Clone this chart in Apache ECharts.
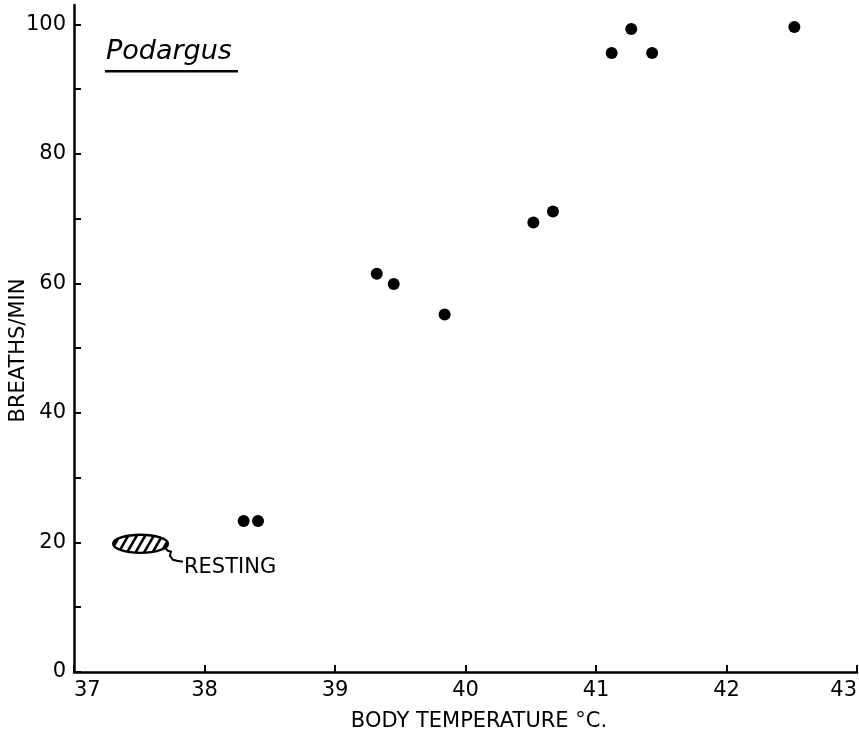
<!DOCTYPE html>
<html>
<head>
<meta charset="utf-8">
<script src="https://cdn.jsdelivr.net/npm/echarts@6/dist/echarts.min.js"></script>
<style>
  html, body { margin: 0; padding: 0; background: #fff; }
  #main { width: 859px; height: 735px; }
</style>
</head>
<body>
<div id="main"></div>
<script>
// data
var bodyTemp = [38.30, 38.41, 39.32, 39.45, 39.84, 40.52, 40.67, 41.12, 41.27, 41.43, 42.52];
var breaths  = [23.3, 23.3, 61.5, 59.9, 55.2, 69.4, 71.1, 95.6, 99.3, 95.6, 99.6];
var xTicks = [37, 38, 39, 40, 41, 42, 43];
var yTicks = [0, 10, 20, 30, 40, 50, 60, 70, 80, 90, 100];
var yLabels = [0, 20, 40, 60, 80, 100];
// resting zone (centre and half sizes, in data units)
var restingX = [37.51];
var restingY = [19.8];
var restingHalfW = [0.21];
var restingHalfH = [1.4];

var font = 'DejaVu Sans';
var chart = echarts.init(document.getElementById('main'));

function restingItem(params, api) {
  var c = api.coord([api.value(0), api.value(1)]);
  var s = api.size([api.value(2), api.value(3)]);
  var cx = c[0], cy = c[1], rx = s[0], ry = s[1];
  var children = [];
  // hatch lines "/" clipped to the ellipse
  var th = 60 * Math.PI / 180, co = Math.cos(th), si = Math.sin(th);
  var step = 8.5;
  for (var k = -5; k <= 5; k++) {
    var d = k * step;
    var A = co * co / (rx * rx) + si * si / (ry * ry);
    var B = 2 * d * co / (rx * rx);
    var C = d * d / (rx * rx) - 1;
    var disc = B * B - 4 * A * C;
    if (disc <= 0) continue;
    var u1 = (-B - Math.sqrt(disc)) / (2 * A);
    var u2 = (-B + Math.sqrt(disc)) / (2 * A);
    children.push({
      type: 'line',
      shape: { x1: cx + d + u1 * co, y1: cy - u1 * si, x2: cx + d + u2 * co, y2: cy - u2 * si },
      style: { stroke: '#000', lineWidth: 2.6 }
    });
  }
  children.push({
    type: 'ellipse',
    shape: { cx: cx, cy: cy, rx: rx, ry: ry },
    style: { fill: 'none', stroke: '#000', lineWidth: 2.4 }
  });
  // little tail to the label
  var tx = cx + rx - 4, ty = cy + 3;
  children.push({
    type: 'polyline',
    shape: { points: [[tx, ty], [tx + 4, ty + 4], [tx + 7, ty + 5], [tx + 6, ty + 9], [tx + 9, ty + 13], [tx + 13, ty + 14], [tx + 19, ty + 15]] },
    style: { fill: 'none', stroke: '#000', lineWidth: 2 }
  });
  children.push({
    type: 'text',
    x: tx + 20, y: ty + 21,
    style: { text: 'RESTING', font: '21px ' + font, fill: '#000', textVerticalAlign: 'middle', textAlign: 'left' }
  });
  return { type: 'group', children: children };
}

var option = {
  backgroundColor: '#fff',
  animation: false,
  grid: { left: 74, right: 2, top: 5, bottom: 63, containLabel: false, outerBoundsMode: 'none' },
  xAxis: {
    type: 'value',
    min: 37,
    max: 43,
    name: 'BODY TEMPERATURE °C.',
    nameLocation: 'middle',
    nameGap: 39,
    nameMoveOverlap: false,
    nameTextStyle: { fontFamily: font, fontSize: 21, color: '#000', padding: [0, 0, 0, 27] },
    axisLine: { lineStyle: { color: '#000', width: 2.5 } },
    axisTick: { inside: true, length: 7, customValues: xTicks, lineStyle: { color: '#000', width: 2 } },
    axisLabel: {
      customValues: xTicks,
      margin: 8,
      fontFamily: font, fontSize: 21, color: '#000',
      alignMinLabel: 'left', alignMaxLabel: 'right'
    },
    splitLine: { show: false }
  },
  yAxis: {
    type: 'value',
    min: 0,
    max: 103,
    name: 'BREATHS/MIN',
    nameLocation: 'middle',
    nameGap: 45,
    nameMoveOverlap: false,
    nameTextStyle: { fontFamily: font, fontSize: 21, color: '#000', padding: [0, 24, 0, 0] },
    axisLine: { lineStyle: { color: '#000', width: 2.5 } },
    axisTick: { inside: true, length: 7, customValues: yTicks, lineStyle: { color: '#000', width: 2 } },
    axisLabel: { customValues: yLabels, margin: 8, fontFamily: font, fontSize: 21, color: '#000' },
    splitLine: { show: false }
  },
  graphic: [
    {
      type: 'text', left: 106, top: 38,
      style: { text: 'Podargus', font: 'italic 27px ' + font, fill: '#000' }
    },
    {
      type: 'rect', left: 105, top: 70,
      shape: { width: 133, height: 2.5 },
      style: { fill: '#000' }
    }
  ],
  series: [
    {
      type: 'scatter',
      symbol: 'circle',
      symbolSize: 12,
      itemStyle: { color: '#000', opacity: 1 },
      data: bodyTemp.map(function (t, i) { return [t, breaths[i]]; })
    },
    {
      type: 'custom',
      renderItem: restingItem,
      silent: true,
      data: restingX.map(function (x, i) { return [x, restingY[i], restingHalfW[i], restingHalfH[i]]; })
    }
  ]
};
chart.setOption(option);
</script>
</body>
</html>
